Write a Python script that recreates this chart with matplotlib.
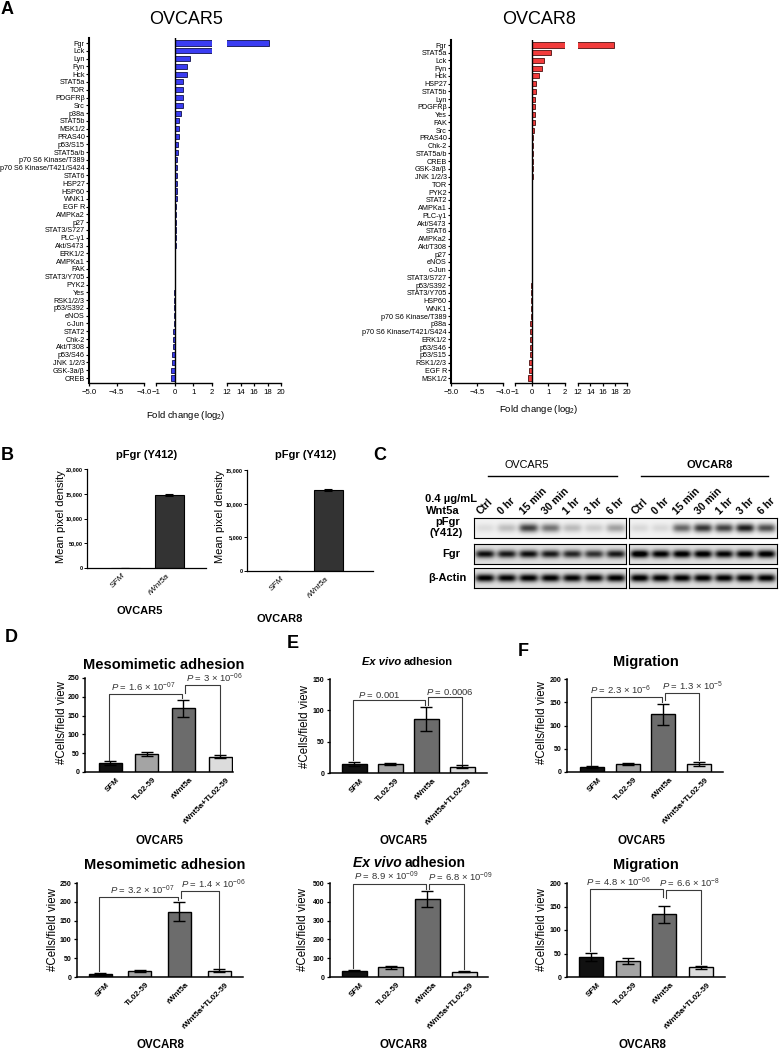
import numpy as np
import matplotlib
matplotlib.use('Agg')
import matplotlib.pyplot as plt
import matplotlib.transforms as mtransforms

plt.rcParams['font.family'] = ['Liberation Sans', 'DejaVu Sans']
plt.rcParams['mathtext.fontset'] = 'custom'
plt.rcParams['mathtext.rm'] = 'Liberation Sans'
plt.rcParams['mathtext.it'] = 'Liberation Sans:italic'
plt.rcParams['mathtext.bf'] = 'Liberation Sans:bold'

# ---- panel A: phospho-kinase array, fold change (log2) ----
ov5_kinases = ['Fgr', 'Lck', 'Lyn', 'Fyn', 'Hck', 'STAT5a', 'TOR', 'PDGFRβ', 'Src', 'p38a',
               'STAT5b', 'MSK1/2', 'PRAS40', 'p53/S15', 'STAT5a/b', 'p70 S6 Kinase/T389',
               'p70 S6 Kinase/T421/S424', 'STAT6', 'HSP27', 'HSP60', 'WNK1', 'EGF R', 'AMPKa2',
               'p27', 'STAT3/S727', 'PLC-γ1', 'Akt/S473', 'ERK1/2', 'AMPKa1', 'FAK', 'STAT3/Y705',
               'PYK2', 'Yes', 'RSK1/2/3', 'p53/S392', 'eNOS', 'c-Jun', 'STAT2', 'Chk-2', 'Akt/T308',
               'p53/S46', 'JNK 1/2/3', 'GSK-3a/β', 'CREB']
ov5_fold = [18.2, 2.0, 0.84, 0.64, 0.64, 0.47, 0.47, 0.46, 0.43, 0.34,
            0.23, 0.22, 0.21, 0.18, 0.16, 0.14,
            0.13, 0.12, 0.11, 0.10, 0.10, 0.09, 0.07,
            0.07, 0.06, 0.05, 0.05, 0.04, 0.03, 0.02, 0.01,
            0.0, -0.01, -0.02, -0.03, -0.04, -0.05, -0.07, -0.09, -0.10,
            -0.12, -0.15, -0.17, -0.20]

ov8_kinases = ['Fgr', 'STAT5a', 'Lck', 'Fyn', 'Hck', 'HSP27', 'STAT5b', 'Lyn', 'PDGFRβ', 'Yes',
               'FAK', 'Src', 'PRAS40', 'Chk-2', 'STAT5a/b', 'CREB', 'GSK-3a/β', 'JNK 1/2/3', 'TOR',
               'PYK2', 'STAT2', 'AMPKa1', 'PLC-γ1', 'Akt/S473', 'STAT6', 'AMPKa2', 'Akt/T308', 'p27',
               'eNOS', 'c-Jun', 'STAT3/S727', 'p53/S392', 'STAT3/Y705', 'HSP60', 'WNK1',
               'p70 S6 Kinase/T389', 'p38a', 'p70 S6 Kinase/T421/S424', 'ERK1/2', 'p53/S46',
               'p53/S15', 'RSK1/2/3', 'EGF R', 'MSK1/2']
ov8_fold = [17.8, 1.15, 0.71, 0.59, 0.45, 0.26, 0.24, 0.22, 0.20, 0.19,
            0.18, 0.11, 0.09, 0.08, 0.07, 0.06, 0.05, 0.05, 0.04,
            0.03, 0.03, 0.02, 0.02, 0.01, 0.01, 0.0, 0.0, 0.0,
            0.0, -0.01, -0.01, -0.02, -0.02, -0.04, -0.05,
            -0.07, -0.08, -0.09, -0.11, -0.12,
            -0.13, -0.14, -0.15, -0.25]

# ---- panel B: pFgr (Y412) densitometry ----
b_groups = ['SFM', 'rWnt5a']
b_ov5 = [0, 14700]
b_ov5_err = [0, 250]
b_ov8 = [0, 12050]
b_ov8_err = [0, 200]
b_ov5_ticks = [0, 5000, 10000, 15000, 20000]
b_ov5_ticklabels = ['0', '50,00', '10,000', '15,000', '20,000']
b_ov8_ticks = [0, 5000, 10000, 15000]
b_ov8_ticklabels = ['0', '5,000', '10,000', '15,000']

# ---- panel C: western blot band intensities (0-1) ----
c_lanes = ['Ctrl', '0 hr', '15 min', '30 min', '1 hr', '3 hr', '6 hr']
pfgr_ov5 = [0.08, 0.2, 0.7, 0.5, 0.22, 0.15, 0.32]
pfgr_ov8 = [0.1, 0.1, 0.55, 0.75, 0.7, 0.85, 0.65]
fgr_ov5 = [0.85, 0.8, 0.85, 0.8, 0.75, 0.7, 0.8]
fgr_ov8 = [1.0, 0.92, 0.95, 0.95, 0.9, 0.92, 0.95]
actin_ov5 = [0.92, 0.9, 0.92, 0.92, 0.9, 0.9, 0.92]
actin_ov8 = [0.95, 0.92, 0.92, 0.92, 0.92, 0.92, 0.92]

# ---- panels D-F: cells / field view ----
groups = ['SFM', 'TL02-59', 'rWnt5a', 'rWnt5a+TL02-59']
meso_ov5 = [23, 48, 169, 41]
meso_ov5_err = [5, 6, 22, 3]
meso_ov8 = [8, 16, 174, 17]
meso_ov8_err = [2, 2, 26, 3]
exvivo_ov5 = [14, 14, 86, 10]
exvivo_ov5_err = [3, 2, 19, 2]
exvivo_ov8 = [34, 53, 415, 28]
exvivo_ov8_err = [4, 8, 42, 4]
migr_ov5 = [10, 17, 124, 17]
migr_ov5_err = [2, 2, 22, 4]
migr_ov8 = [42, 34, 133, 21]
migr_ov8_err = [9, 7, 18, 3]
p_meso_ov5 = ['$P$ = 1.6 × 10$^{-07}$', '$P$ = 3 × 10$^{-06}$']
p_meso_ov8 = ['$P$ = 3.2 × 10$^{-07}$', '$P$ = 1.4 × 10$^{-06}$']
p_exvivo_ov5 = ['$P$ = 0.001', '$P$ = 0.0006']
p_exvivo_ov8 = ['$P$ = 8.9 × 10$^{-09}$', '$P$ = 6.8 × 10$^{-09}$']
p_migr_ov5 = ['$P$ = 2.3 × 10$^{-6}$', '$P$ = 1.3 × 10$^{-5}$']
p_migr_ov8 = ['$P$ = 4.8 × 10$^{-06}$', '$P$ = 6.6 × 10$^{-8}$']
bar_colors = ['#111111', '#a4a4a4', '#6c6c6c', '#dcdcdc']

W, H = 779, 1050
fig = plt.figure(figsize=(W / 100, H / 100), dpi=100)


def box(x0, y0, x1, y1):
    return [x0 / W, 1 - y1 / H, (x1 - x0) / W, (y1 - y0) / H]


def put(x, y, s, **kw):
    fig.text(x / W, 1 - y / H, s, **kw)


def shift_xlabels(ax, dx):
    off = mtransforms.ScaledTranslation(dx / 100, 0, fig.dpi_scale_trans)
    for lab in ax.get_xticklabels():
        lab.set_transform(lab.get_transform() + off)


# ---------------- A ----------------
def fold_panel(labels, vals, face, edge, segs, y_first, y_last, top, bottom):
    n = len(labels)
    step = (y_last - y_first) / (n - 1)
    pos = np.arange(n)
    lims = [(-5, -4), (-1, 2), (12, 20)]
    ticks = [[-5.0, -4.5, -4.0], [-1, 0, 1, 2], [12, 14, 16, 18, 20]]
    for k in range(3):
        ax = fig.add_axes(box(segs[k][0], top, segs[k][1], bottom))
        ax.patch.set_alpha(0)
        ax.barh(pos, vals, height=0.65, color=face, edgecolor=edge, linewidth=0.6)
        ax.set_xlim(*lims[k])
        ax.set_ylim((bottom - y_first) / step, (top - y_first) / step)
        ax.set_xticks(ticks[k])
        ax.tick_params(axis='x', length=2.5, width=0.9, pad=1.5, labelsize=5.6)
        for s in ['top', 'right']:
            ax.spines[s].set_visible(False)
        ax.spines['bottom'].set_linewidth(1.0)
        if k == 0:
            ax.set_yticks(pos)
            ax.set_yticklabels(labels, fontsize=5.2)
            ax.tick_params(axis='y', length=2, width=0.8, pad=1)
            ax.spines['left'].set_linewidth(1.5)
        else:
            ax.spines['left'].set_visible(False)
            ax.set_yticks([])
        if k == 1:
            ax.axvline(0, color='black', lw=1.0)


fold_panel(ov5_kinases, ov5_fold, '#3b3df2', '#10104a',
           [(89, 144), (156, 212), (227, 281)], 43, 378, 38, 383)
fold_panel(ov8_kinases, ov8_fold, '#f23c3c', '#4a1010',
           [(451, 503), (515, 565), (578, 627)], 45, 378, 40, 383)
put(186, 20, 'OVCAR5', fontsize=13, ha='center', va='center')
put(539, 20, 'OVCAR8', fontsize=13, ha='center', va='center')
put(186, 416, 'Fold change (log$_2$)', fontsize=6.8, ha='center', va='center')
put(539, 410, 'Fold change (log$_2$)', fontsize=6.8, ha='center', va='center')


# ---------------- B ----------------
def density_panel(vals, errs, x0, x1, top, bottom, c0, c1, ymax, ticks, ticklabels):
    ax = fig.add_axes(box(x0, top, x1, bottom))
    sp = c1 - c0
    ax.bar(range(2), vals, width=29 / sp, color='#333333', edgecolor='black', linewidth=0.8,
           yerr=errs, capsize=3, error_kw=dict(lw=0.8, capthick=0.8))
    ax.set_xlim((x0 - c0) / sp, (x1 - c0) / sp)
    ax.set_ylim(0, ymax)
    ax.set_yticks(ticks)
    ax.set_yticklabels(ticklabels, fontsize=4, fontweight='bold')
    ax.set_xticks(range(2))
    ax.set_xticklabels(b_groups, rotation=45, ha='right', rotation_mode='anchor',
                       fontsize=6, fontstyle='italic')
    ax.tick_params(axis='y', length=2, width=0.7, pad=1)
    ax.tick_params(axis='x', length=0, pad=3)
    for s in ['top', 'right']:
        ax.spines[s].set_visible(False)
    ax.spines['left'].set_linewidth(0.9)
    ax.spines['bottom'].set_linewidth(0.9)
    shift_xlabels(ax, -3)


density_panel(b_ov5, b_ov5_err, 87, 206, 469, 568, 125, 169, 20000, b_ov5_ticks, b_ov5_ticklabels)
density_panel(b_ov8, b_ov8_err, 247, 373, 470, 571, 284, 328, 15000, b_ov8_ticks, b_ov8_ticklabels)
put(147, 455, 'pFgr (Y412)', fontsize=8, fontweight='bold', ha='center', va='center')
put(306, 455, 'pFgr (Y412)', fontsize=8, fontweight='bold', ha='center', va='center')
put(61, 517, 'Mean pixel density', fontsize=8, rotation=90, ha='center', va='center')
put(220, 517, 'Mean pixel density', fontsize=8, rotation=90, ha='center', va='center')
put(140, 611, 'OVCAR5', fontsize=8, fontweight='bold', ha='center', va='center')
put(280, 619, 'OVCAR8', fontsize=8, fontweight='bold', ha='center', va='center')


# ---------------- C ----------------
def blot(x0, x1, y0, y1, vals, bg, sx, sy):
    ax = fig.add_axes(box(x0, y0, x1, y1))
    xs = np.linspace(0, 7, 350)
    ys = np.linspace(0, 1, 40)
    X, Y = np.meshgrid(xs, ys)
    img = np.full_like(X, bg)
    for i, v in enumerate(vals):
        img += v * np.exp(-((X - (i + 0.5)) / sx) ** 4) * np.exp(-((Y - 0.5) / sy) ** 2)
    ax.imshow(np.clip(img, 0, 1), cmap='gray_r', vmin=0, vmax=1, extent=(0, 7, 0, 1),
              aspect='auto', interpolation='bilinear')
    ax.set_xticks([])
    ax.set_yticks([])
    for s in ax.spines.values():
        s.set_linewidth(0.8)


rows = [(518, 538, pfgr_ov5, pfgr_ov8, 0.05, 0.22),
        (544, 564, fgr_ov5, fgr_ov8, 0.12, 0.2),
        (568, 588, actin_ov5, actin_ov8, 0.12, 0.2)]
for y0, y1, v5, v8, bg, sy in rows:
    blot(474, 626, y0, y1, v5, bg, 0.44, sy)
    blot(629, 777, y0, y1, v8, bg, 0.44, sy)

for bx0, bx1 in [(474, 626), (629, 777)]:
    lw_ = (bx1 - bx0) / 7
    for i, lab in enumerate(c_lanes):
        put(bx0 + lw_ * (i + 0.5) - 3, 516, lab, fontsize=7.5, fontweight='bold',
            rotation=45, ha='left', va='bottom', rotation_mode='anchor')

put(527, 465, 'OVCAR5', fontsize=7.8, ha='center', va='center')
put(710, 465, 'OVCAR8', fontsize=8, fontweight='bold', ha='center', va='center')
fig.add_artist(plt.Line2D([488 / W, 617 / W], [1 - 476 / H] * 2, color='black', lw=1.0))
fig.add_artist(plt.Line2D([641 / W, 768 / W], [1 - 476 / H] * 2, color='black', lw=1.0))
put(477, 499, '0.4 µg/mL', fontsize=8, fontweight='bold', ha='right', va='center')
put(460, 511, 'Wnt5a', fontsize=8, fontweight='bold', ha='right', va='center')
put(460, 522, 'pFgr', fontsize=8, fontweight='bold', ha='right', va='center')
put(463, 533, '(Y412)', fontsize=8, fontweight='bold', ha='right', va='center')
put(460, 554, 'Fgr', fontsize=8, fontweight='bold', ha='right', va='center')
put(467, 578, 'β-Actin', fontsize=8, fontweight='bold', ha='right', va='center')


# ---------------- D-F ----------------
def cell_panel(vals, errs, x0, x1, top, bottom, centers, bar_px, ymax, ystep, plabels, levels, text_x):
    ax = fig.add_axes(box(x0, top, x1, bottom))
    sp = (centers[3] - centers[0]) / 3
    idx = np.arange(4)
    ax.bar(idx, vals, width=bar_px / sp, color=bar_colors, edgecolor='black', linewidth=1.0,
           yerr=errs, capsize=4.5, error_kw=dict(lw=1.0, capthick=1.0, ecolor='black'))
    ax.set_xlim((x0 - centers[0]) / sp, (x1 - centers[0]) / sp)
    ax.set_ylim(0, ymax)
    ax.set_yticks(np.arange(0, ymax + 1, ystep))
    for lab in ax.get_yticklabels():
        lab.set_fontsize(5)
        lab.set_fontweight('bold')
    ax.set_xticks(idx)
    ax.set_xticklabels(groups, rotation=45, ha='right', rotation_mode='anchor',
                       fontsize=5.8, fontweight='bold')
    ax.tick_params(axis='y', length=2.5, width=0.9, pad=1.5)
    ax.tick_params(axis='x', length=0, pad=3)
    for s in ['top', 'right']:
        ax.spines[s].set_visible(False)
    ax.spines['left'].set_linewidth(1.1)
    ax.spines['bottom'].set_linewidth(1.1)
    shift_xlabels(ax, 6)
    tops = [v + e for v, e in zip(vals, errs)]
    gap = 0.02 * ymax
    # left bracket: SFM -> rWnt5a, right bracket: rWnt5a -> rWnt5a+TL02-59
    pairs = [(0, -0.03, 2, -0.03), (2, 0.05, 3, 0.0)]
    for k, (i, di, j, dj) in enumerate(pairs):
        lev = levels[k]
        ya = tops[i] + gap if i != 2 else max(tops[i] + gap, lev - 0.08 * ymax)
        yb = tops[j] + gap if j != 2 else max(tops[j] + gap, lev - 0.08 * ymax)
        ax.plot([i + di, i + di, j + dj, j + dj], [ya, lev, lev, yb], color='#3a3a3a',
                lw=0.8, clip_on=False)
        ax.text(text_x[k], lev + 0.004 * ymax, plabels[k], ha='center', va='bottom',
                fontsize=6.8, color='#333333')
    return ax


cell_panel(meso_ov5, meso_ov5_err, 85, 233, 678, 772, [110, 147, 183, 220], 23, 250, 50,
           p_meso_ov5, [207, 231], [0.9, 2.85])
cell_panel(meso_ov8, meso_ov8_err, 77, 243, 883, 977, [100, 137, 183, 219], 23, 250, 50,
           p_meso_ov8, [213, 229], [1.08, 2.87])
cell_panel(exvivo_ov5, exvivo_ov5_err, 330, 487, 679, 773, [354, 390, 426, 462], 25, 150, 50,
           p_exvivo_ov5, [116, 121], [0.69, 2.67])
cell_panel(exvivo_ov8, exvivo_ov8_err, 330, 488, 883, 977, [354, 391, 427, 464], 25, 500, 100,
           p_exvivo_ov8, [497, 493], [0.87, 2.89])
cell_panel(migr_ov5, migr_ov5_err, 567, 723, 679, 772, [592, 627, 664, 699], 24, 200, 50,
           p_migr_ov5, [161, 170], [0.81, 2.83])
cell_panel(migr_ov8, migr_ov8_err, 567, 725, 883, 977, [591, 628, 664, 701], 24, 200, 50,
           p_migr_ov8, [187, 185], [0.74, 2.7])

put(164, 665, 'Mesomimetic adhesion', fontsize=10.5, fontweight='bold', ha='center', va='center')
put(165, 865, 'Mesomimetic adhesion', fontsize=10.5, fontweight='bold', ha='center', va='center')
put(401, 662, 'Ex vivo', fontsize=8, fontweight='bold', fontstyle='italic', ha='right', va='center')
put(404, 662, 'adhesion', fontsize=8, fontweight='bold', ha='left', va='center')
put(402, 863, 'Ex vivo', fontsize=10, fontweight='bold', fontstyle='italic', ha='right', va='center')
put(405, 863, 'adhesion', fontsize=10, fontweight='bold', ha='left', va='center')
put(646, 662, 'Migration', fontsize=10.5, fontweight='bold', ha='center', va='center')
put(646, 865, 'Migration', fontsize=10.5, fontweight='bold', ha='center', va='center')

for x, y in [(62, 723), (53, 930), (305, 727), (303, 930), (542, 723), (542, 930)]:
    put(x, y, '#Cells/field view', fontsize=8.3, rotation=90, ha='center', va='center')
for x in [160, 403, 642]:
    put(x, 841, 'OVCAR5', fontsize=8.3, fontweight='bold', ha='center', va='center')
    put(x, 1045, 'OVCAR8', fontsize=8.3, fontweight='bold', ha='center', va='center')

# panel letters
for x, y, s in [(1, 9, 'A'), (1, 455, 'B'), (373, 455, 'C'), (5, 637, 'D'), (287, 643, 'E'), (518, 652, 'F')]:
    put(x, y, s, fontsize=13, fontweight='bold', ha='left', va='center')

plt.savefig('out.png', dpi=100)
